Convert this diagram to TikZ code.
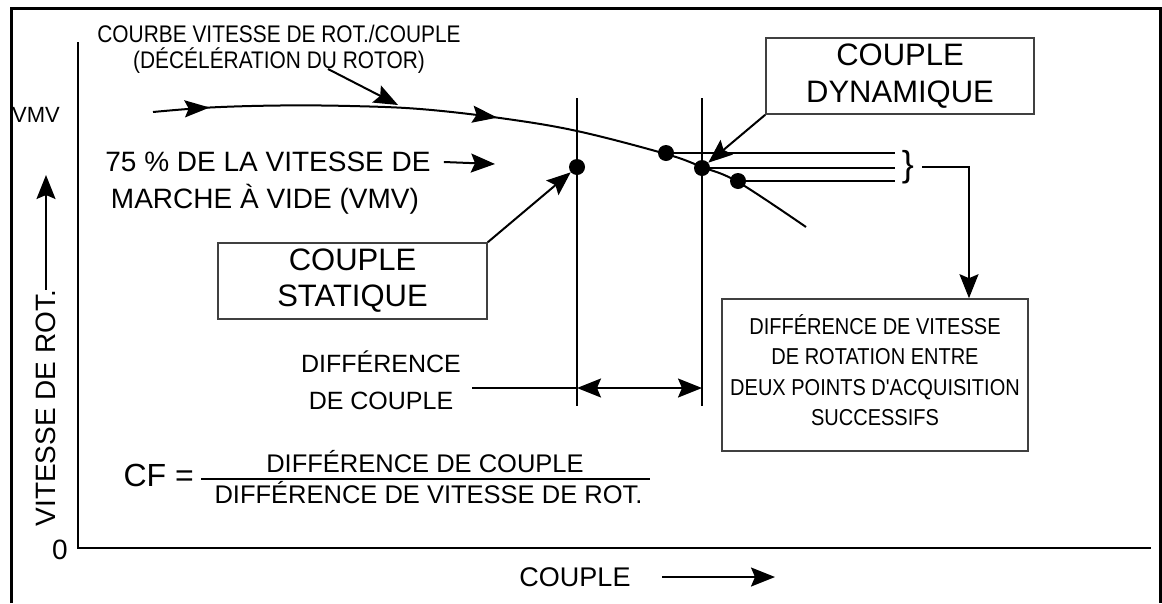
\documentclass[tikz,border=0pt]{standalone}
\usepackage{fontspec}
\setmainfont{Liberation Sans}
\newfontfamily\narrowsf[FakeStretch=0.87]{Liberation Sans}
\usetikzlibrary{arrows.meta,positioning,decorations.markings}

\newcommand{\fsz}[2]{\fontsize{#1}{#2}\selectfont}

\tikzstyle{line}=[line width=2pt]
\tikzstyle{arr}=[line width=2pt, -{Stealth[length=24pt, width=19pt, inset=4pt]}]
\tikzstyle{darr}=[line width=2pt, {Stealth[length=24pt, width=19pt, inset=4pt]}-{Stealth[length=24pt, width=19pt, inset=4pt]}]
\tikzstyle{lbl}=[inner sep=0pt, align=center]
\tikzstyle{boxed}=[draw=black!75, line width=1.6pt, align=center, inner sep=0pt]
\tikzstyle{dot}=[circle, fill, inner sep=0pt, minimum size=16pt]
\tikzstyle{curvemarks}=[postaction={decorate}, decoration={markings,
    mark=at position 0.084 with {\arrow{Stealth[length=25pt, width=17pt, inset=4pt]}},
    mark=at position 0.51 with {\arrow{Stealth[length=25pt, width=17pt, inset=4pt]}}}]

\begin{document}
\begin{tikzpicture}[x=1pt, y=-1pt]
    \useasboundingbox (0,0) rectangle (1162,603);
    % frame and axes
    \draw[line width=3pt] (11,603) -- (11,8) -- (1160,8) -- (1160,603);
    \draw[line] (78,42) -- (78,548) -- (1151,548);

    % axis labels
    \node[lbl, font=\fsz{28}{28}] (zero) at (60,550) {0};
    \node[lbl, font=\fsz{22}{22}, anchor=west] (vmv) at (12,115) {VMV};
    \node[lbl, rotate=90, font=\fsz{28}{28}] (ylabel) at (46,408) {VITESSE DE ROT.};
    \coordinate (ytip) at (46,175);
    \node[lbl, font=\fsz{27}{27}] (xlabel) at (575,577) {COUPLE};
    \coordinate (xstart) at (662,577);
    \coordinate (xtip) at (775,577);

    % texts
    \node[lbl, font=\narrowsf\fsz{24}{26}] (courbe) at (279,49) {COURBE VITESSE DE ROT./COUPLE\\(DÉCÉLÉRATION DU ROTOR)};
    \coordinate (cstart) at (328,69);
    \coordinate (ctip) at (398,105);
    \node[lbl, font=\fsz{28}{28}] (vmvA) at (268,162) {75 \% DE LA VITESSE DE};
    \node[lbl, font=\fsz{28}{28}] (vmvB) at (265,199) {MARCHE À VIDE (VMV)};
    \coordinate (vtip) at (495,164);
    \node[lbl, font=\fsz{25}{37}] (dcouple) at (381,380) {DIFFÉRENCE\\DE COUPLE};
    \coordinate (dstart) at (472,388);
    \coordinate (dleft) at (577,388);
    \coordinate (dright) at (702,388);

    % boxes
    \node[boxed, minimum width=269pt, minimum height=76pt, font=\fsz{31}{36}] (statique) at (352.5,281) {COUPLE\\STATIQUE};
    \node[boxed, minimum width=268pt, minimum height=76pt, font=\fsz{31}{37}] (dynamique) at (900,76) {COUPLE\\DYNAMIQUE};
    \node[boxed, minimum width=306pt, minimum height=152pt, font=\narrowsf\fsz{23}{30.5}, text depth=10pt] (ecart) at (875,375) {DIFFÉRENCE DE VITESSE\\DE ROTATION ENTRE\\DEUX POINTS D'ACQUISITION\\SUCCESSIFS};

    % speed / torque curve
    \draw[line, curvemarks] plot[smooth, tension=0.6] coordinates {(153,112) (210,107.5) (280,105.5) (350,106) (420,109) (500,118) (577,131) (666,154) (702,167) (738,182) (806,227)};
    \draw[line] (577,98) -- (577,406);
    \draw[line] (702,98) -- (702,406);

    % acquisition points
    \node[dot] (pstat) at (577,167) {};
    \node[dot] (pup) at (666,153) {};
    \node[dot] (pdyn) at (702,168) {};
    \node[dot] (plow) at (738,181) {};
    \node[lbl, font=\fsz{36}{36}] (brace) at (908,167) {\}};
    \coordinate (bx) at (895,167);
    \coordinate (bend) at (969,167);

    \draw[line] (pup) -- (pup -| bx);
    \draw[line] (pdyn) -- (pdyn -| bx);
    \draw[line] (plow) -- (plow -| bx);
    \draw[arr] ([xshift=8pt]brace.east) -- (bend) -- (bend |- ecart.north);
    \draw[arr] (statique.north east) -- (pstat);
    \draw[arr] (dynamique.south west) -- (pdyn);
    \draw[arr] (cstart) -- (ctip);
    \draw[arr] ([xshift=13pt]vmvA.east) -- (vtip);
    \draw[line] (dstart) -- (dleft);
    \draw[darr] (dleft) -- (dright);
    \draw[arr] (ylabel.east) -- (ytip);
    \draw[arr] (xstart) -- (xtip);

    % formula
    \node[lbl, font=\fsz{25.5}{25.5}] (num) at (425,461.5) {DIFFÉRENCE DE COUPLE};
    \node[lbl, font=\fsz{25.5}{25.5}] (den) at (428.5,493) {DIFFÉRENCE DE VITESSE DE ROT.};
    \node[lbl, font=\fsz{32}{32}, anchor=east] (cf) at (194,475) {CF =};
    \coordinate (barL) at (201,479);
    \coordinate (barR) at (650,479);
    \draw[line] (barL) -- (barR);
\end{tikzpicture}
\end{document}
